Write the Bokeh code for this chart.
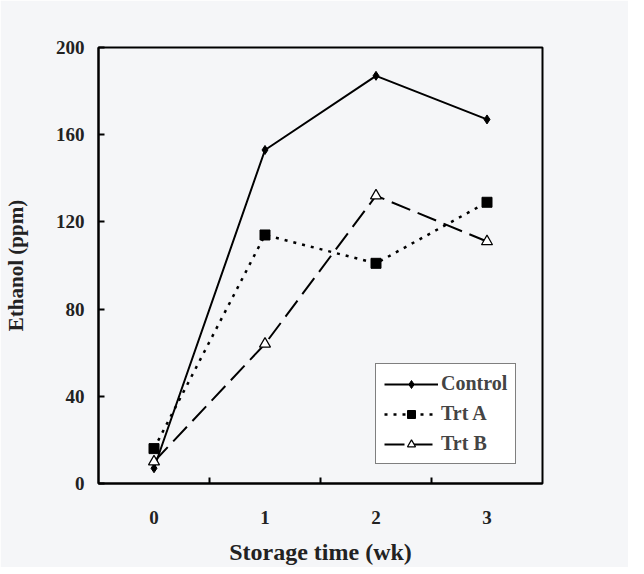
from bokeh.plotting import figure
from bokeh.models import FixedTicker, Legend, LegendItem, Range1d
from bokeh.embed import file_html
from bokeh.resources import INLINE

weeks = [0, 1, 2, 3]
week_labels = ["0", "1", "2", "3"]
control = [7, 153, 187, 167]
trt_a = [16, 114, 101, 129]
trt_b = [10, 64, 132, 111]
y_ticks = [0, 40, 80, 120, 160, 200]

FONT = "Liberation Serif"
BG = "#f5f6f8"

p = figure(frame_width=444, frame_height=436, output_backend="svg", toolbar_location=None,
           x_range=Range1d(-0.5, 3.5), y_range=Range1d(0, 200),
           min_border_left=98, min_border_top=47, min_border_right=86, min_border_bottom=75,
           background_fill_color=BG, border_fill_color=BG)
p.grid.visible = False
p.outline_line_color = "black"
p.outline_line_width = 2

xa = p.xaxis[0]
xa.ticker = FixedTicker(ticks=weeks, minor_ticks=[0.5, 1.5, 2.5])
xa.major_label_overrides = {w: l for w, l in zip(weeks, week_labels)}
xa.major_tick_in = 0
xa.major_tick_out = 0
xa.minor_tick_in = 6
xa.minor_tick_out = 0
xa.minor_tick_line_color = "black"
xa.minor_tick_line_width = 2
xa.major_label_standoff = 27
xa.axis_label = "Storage time (wk)"
xa.axis_label_standoff = 12
xa.axis_label_text_font_size = "24px"

ya = p.yaxis[0]
ya.ticker = FixedTicker(ticks=y_ticks, minor_ticks=[])
ya.major_tick_in = 6
ya.major_tick_out = 0
ya.major_tick_line_width = 2
ya.major_label_standoff = 14
ya.axis_label = "Ethanol (ppm)"
ya.axis_label_standoff = 25
ya.axis_label_text_font_size = "21px"

for ax in (xa, ya):
    ax.axis_line_color = "black"
    ax.axis_line_width = 2
    ax.major_label_text_font = FONT
    ax.major_label_text_font_style = "bold"
    ax.major_label_text_font_size = "19px"
    ax.major_label_text_color = "#222222"
    ax.axis_label_text_font = FONT
    ax.axis_label_text_font_style = "bold"
    ax.axis_label_text_color = "#222222"

c_line = p.line(weeks, control, line_color="black", line_width=2)
c_mark = p.scatter(weeks, control, marker="diamond", size=9, fill_color="black", line_color="black")
a_line = p.line(weeks, trt_a, line_color="black", line_width=2.5, line_dash="3 6")
a_mark = p.scatter(weeks, trt_a, marker="square", size=10, fill_color="black", line_color="black")
b_line = p.line(weeks, trt_b, line_color="black", line_width=2, line_dash="20 8")
b_mark = p.scatter(weeks, trt_b, marker="triangle", size=11, fill_color="white", line_color="black", line_width=1.2)

legend = Legend(items=[
    LegendItem(label="Control", renderers=[c_line, c_mark]),
    LegendItem(label="Trt A", renderers=[a_line, a_mark]),
    LegendItem(label="Trt B", renderers=[b_line, b_mark]),
], location=(277, 19))
legend.border_line_color = "black"
legend.border_line_width = 1.5
legend.background_fill_color = "white"
legend.background_fill_alpha = 1
legend.label_text_font = FONT
legend.label_text_font_style = "bold"
legend.label_text_font_size = "20px"
legend.glyph_width = 54
legend.glyph_height = 20
legend.label_height = 20
legend.spacing = 7
legend.padding = 8
legend.label_standoff = 3
legend.margin = 0
p.add_layout(legend, "center")

open("out.html", "w").write(file_html(p, INLINE))
